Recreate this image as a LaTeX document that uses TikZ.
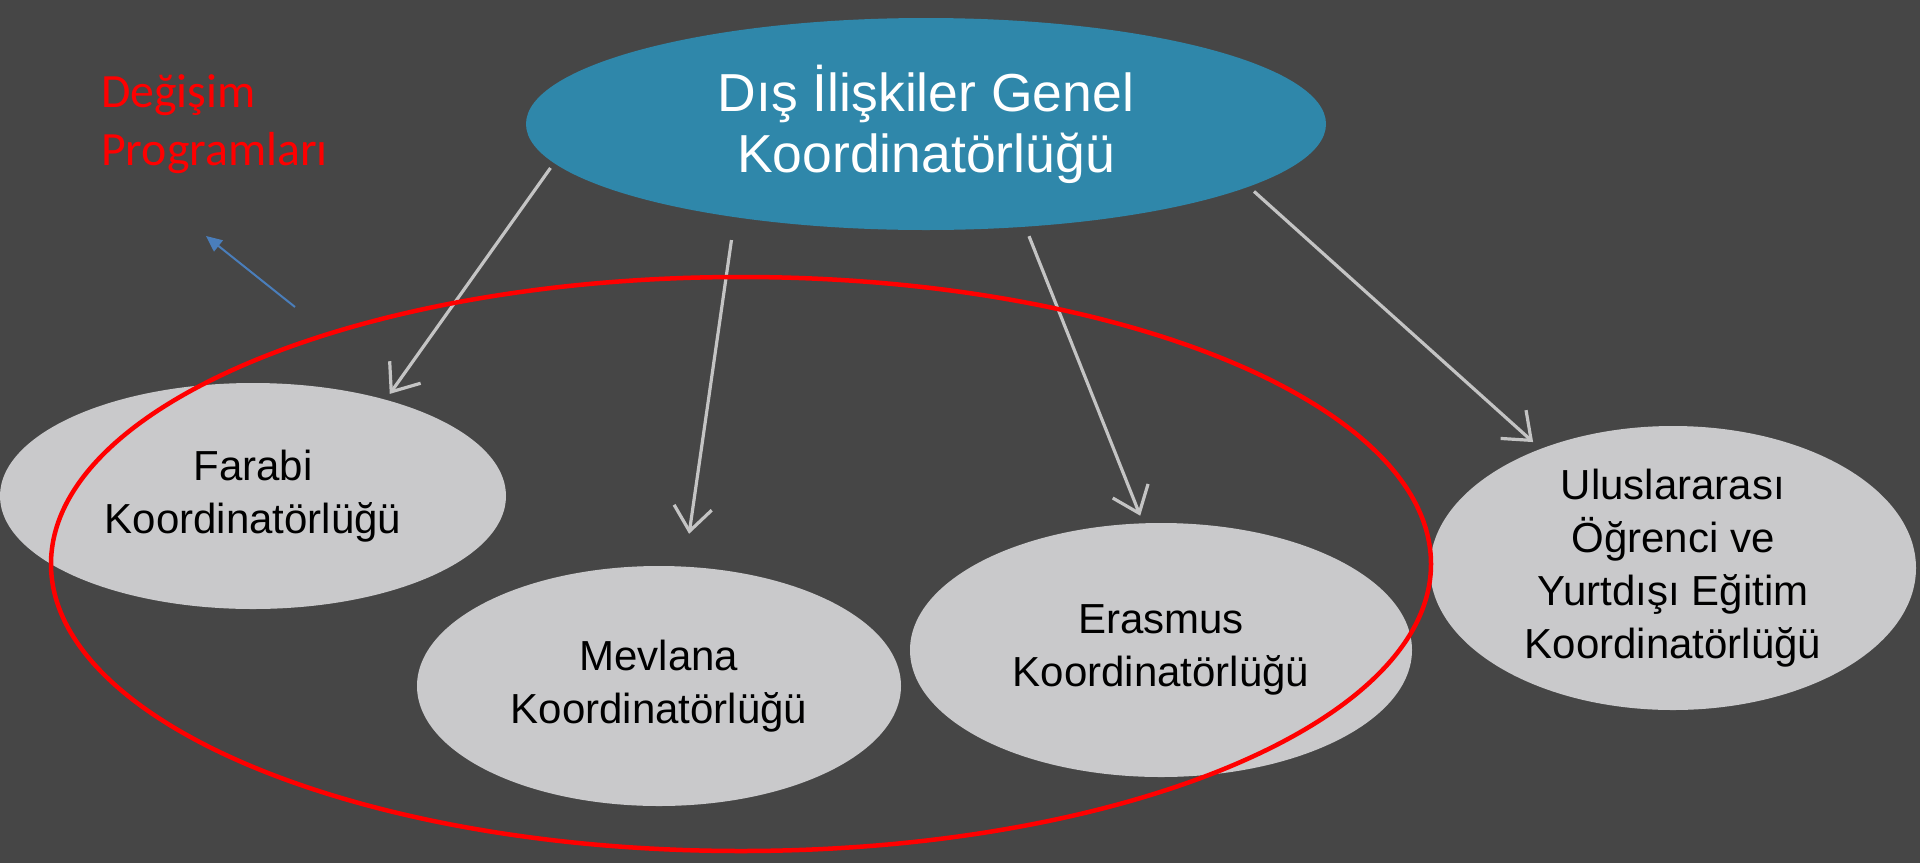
\documentclass[tikz,border=0pt]{standalone}
\usepackage{fontspec}
\setmainfont{Liberation Sans}
\newfontfamily\redfont{Carlito}
\usetikzlibrary{shapes.geometric,arrows.meta}
\definecolor{bgc}{HTML}{464646}
\definecolor{topblue}{HTML}{2F87AA}
\definecolor{nodegray}{HTML}{C9C9CB}
\definecolor{arrowgray}{HTML}{C4C4C4}
\definecolor{bluearrow}{HTML}{4A7EBB}
\tikzset{
  topnode/.style={ellipse, fill=topblue, inner sep=0pt, text=white, align=center,
    font=\fontsize{53.5}{61}\selectfont},
  graynode/.style={ellipse, fill=nodegray, inner sep=0pt, text=black, align=center,
    font=\fontsize{42}{53}\selectfont},
  grparrow/.style={draw=arrowgray, line width=3.2pt, -{Straight Barb[length=24pt, width=38pt, line width=3.2pt]}},
  groupring/.style={ellipse, draw=red, line width=4.5pt, inner sep=0pt},
}
\begin{document}
\begin{tikzpicture}[x=1pt,y=-1pt]
\useasboundingbox (0,0) rectangle (1920,863);
\fill[bgc] (0,0) rectangle (1920,863);

\node[topnode, minimum width=800pt, minimum height=212pt] (dis) at (926,124) {Dış İlişkiler Genel\\Koordinatörlüğü};
\node[graynode, minimum width=506pt, minimum height=226pt] (far) at (253,496) {Farabi\\Koordinatörlüğü};
\node[graynode, minimum width=484pt, minimum height=240pt] (mev) at (659,686) {Mevlana\\Koordinatörlüğü};
\node[graynode, minimum width=502pt, minimum height=254pt] (era) at (1161,650) {Erasmus\\Koordinatörlüğü};
\node[graynode, minimum width=486pt, minimum height=284pt] (ulu) at (1673,568) {Uluslararası\\Öğrenci ve\\Yurtdışı Eğitim\\Koordinatörlüğü};

\draw[grparrow, shorten <=6pt, shorten >=7pt] (dis.186.6) -- (far.36.2);
\draw[grparrow, shorten <=23pt, shorten >=33pt] (dis.206.1) -- (mev.78.6);
\draw[grparrow, shorten <=10pt, shorten >=8pt] (dis.314) -- (era.98.6);
\draw[grparrow, shorten <=7pt, shorten >=10pt] (dis.349.6) -- (ulu.138.7);

\node[groupring, minimum width=1380pt, minimum height=574pt] (grp) at (741,564) {};

\node[anchor=west, inner sep=0pt, align=left, text=red, font=\redfont\fontsize{47.8}{58}\selectfont] (lbl) at (101,124) {Değişim\\Programları};

\coordinate (bs) at (295,307);
\coordinate (be) at (206,236);
\draw[draw=bluearrow, line width=2pt, -{Triangle[length=16pt, width=14pt]}] (bs) -- (be);
\end{tikzpicture}
\end{document}
